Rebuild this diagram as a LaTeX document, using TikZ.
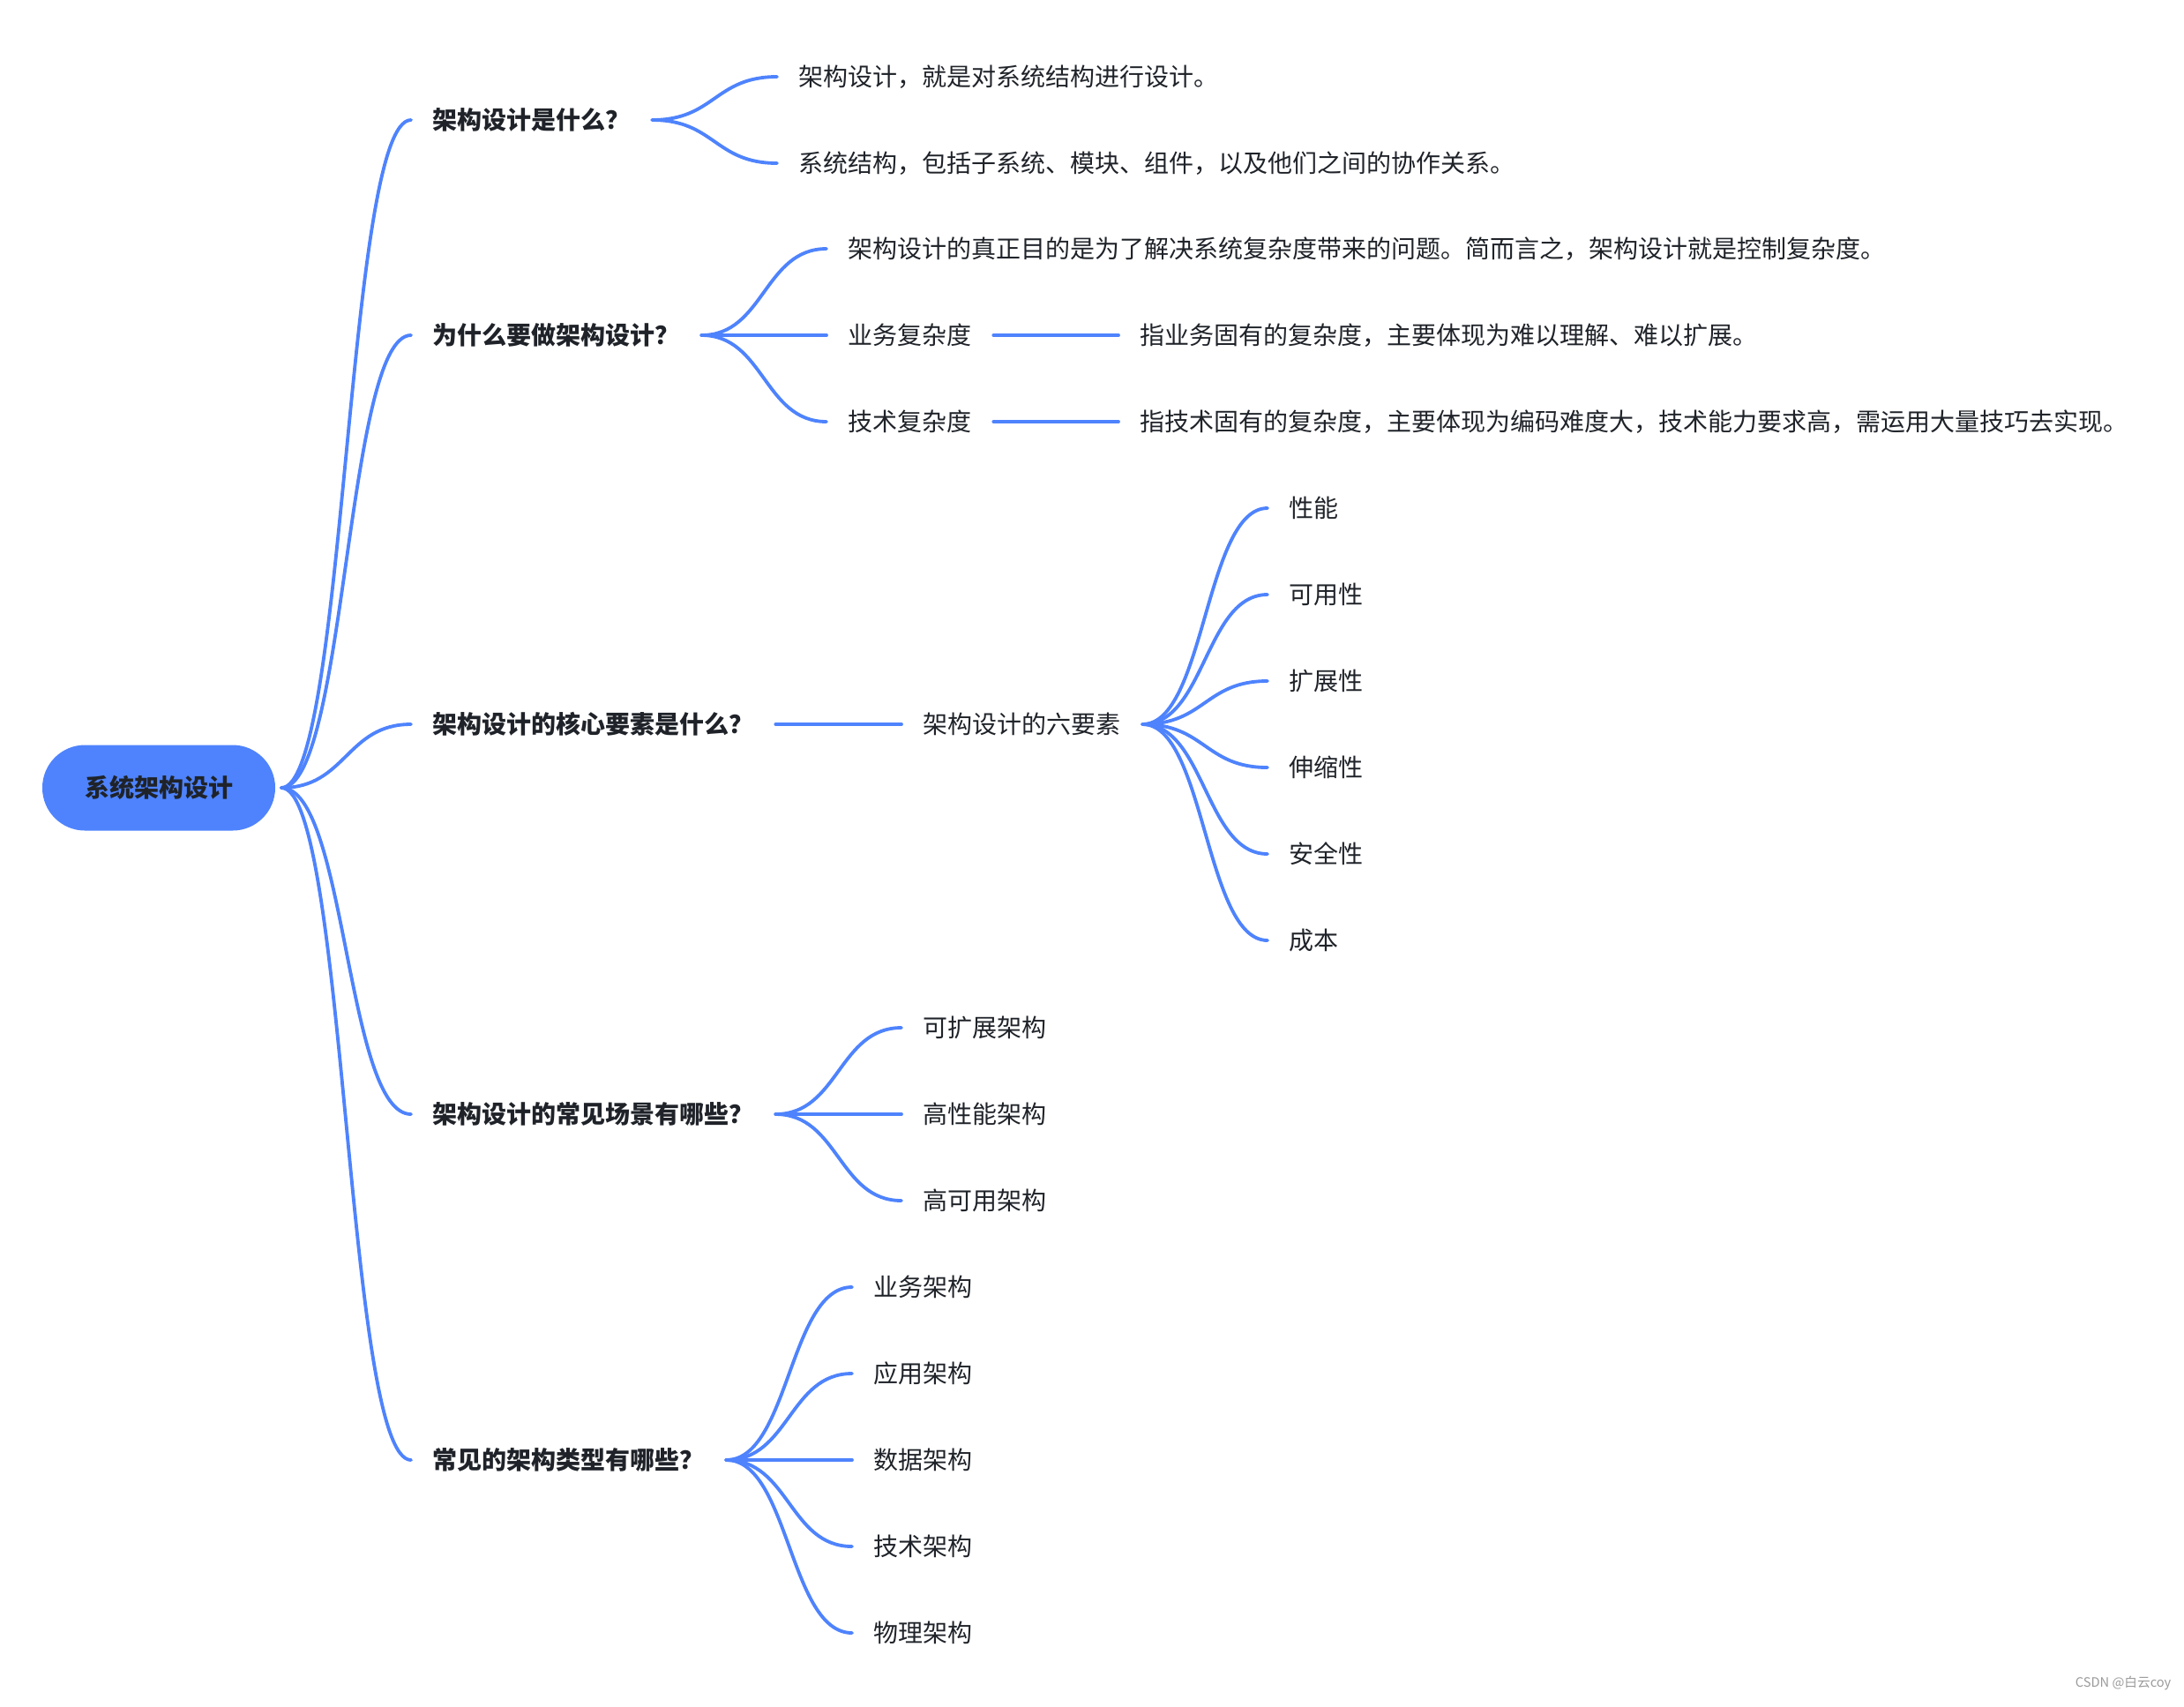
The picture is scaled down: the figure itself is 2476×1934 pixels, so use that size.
\documentclass[tikz,border=0pt]{standalone}
\usepackage{fontspec}
\setmainfont{Noto Sans CJK SC}
\usetikzlibrary{calc}
\definecolor{lnblue}{HTML}{4E83FD}
\definecolor{txt}{HTML}{1F2329}
\definecolor{wm}{HTML}{9A9A9A}
\newcommand\mmfs{\fontsize{8.4pt}{10pt}\selectfont}
\begin{document}
\begin{tikzpicture}[x=0.3pt,y=-0.3pt,
  every node/.style={inner ysep=0pt, inner xsep=7.2pt, font=\mmfs, text=txt},
  topic/.style={anchor=west, font=\mmfs\bfseries},
  leaf/.style={anchor=west},
  link/.style={draw=lnblue, line width=1.15pt, line cap=round},
  mm/.style={to path={let \p1=(\tikztostart), \p2=(\tikztotarget) in
     .. controls ({0.5*\x1+0.5*\x2},\y1) and ({0.5*\x1+0.5*\x2},\y2) .. (\tikztotarget)}},
]
\useasboundingbox (0,0) rectangle (2476,1934);

% root
\node[fill=lnblue, rounded corners=14.5pt, minimum width=79.2pt, minimum height=29.1pt,
      font=\mmfs\bfseries, outer sep=2.1pt] (root) at (180,893) {系统架构设计};

% level 1
\node[topic] (a) at (466,136)  {架构设计是什么？};
\node[topic] (b) at (466,380)  {为什么要做架构设计？};
\node[topic] (c) at (466,821)  {架构设计的核心要素是什么？};
\node[topic] (d) at (466,1263) {架构设计的常见场景有哪些？};
\node[topic] (e) at (466,1655) {常见的架构类型有哪些？};

\foreach \k in {a,b,c,d,e} \draw[link] (root.east) to[mm] (\k.west);

% branch a
\node[leaf] (a1) at (881,87)  {架构设计，就是对系统结构进行设计。};
\node[leaf] (a2) at (881,185) {系统结构，包括子系统、模块、组件，以及他们之间的协作关系。};
\foreach \k in {a1,a2} \draw[link] (a.east) to[mm] (\k.west);

% branch b
\node[leaf] (b1) at (937,282) {架构设计的真正目的是为了解决系统复杂度带来的问题。简而言之，架构设计就是控制复杂度。};
\node[leaf] (b2) at (937,380) {业务复杂度};
\node[leaf] (b3) at (937,478) {技术复杂度};
\foreach \k in {b1,b2,b3} \draw[link] (b.east) to[mm] (\k.west);
\node[leaf] (b2a) at (1268,380) {指业务固有的复杂度，主要体现为难以理解、难以扩展。};
\node[leaf] (b3a) at (1268,478) {指技术固有的复杂度，主要体现为编码难度大，技术能力要求高，需运用大量技巧去实现。};
\draw[link] (b2.east) -- (b2a.west);
\draw[link] (b3.east) -- (b3a.west);

% branch c
\node[leaf] (c1) at (1022,821) {架构设计的六要素};
\draw[link] (c.east) -- (c1.west);
\node[leaf] (c11) at (1437,576)  {性能};
\node[leaf] (c12) at (1437,674)  {可用性};
\node[leaf] (c13) at (1437,772)  {扩展性};
\node[leaf] (c14) at (1437,870)  {伸缩性};
\node[leaf] (c15) at (1437,968)  {安全性};
\node[leaf] (c16) at (1437,1066) {成本};
\foreach \k in {c11,c12,c13,c14,c15,c16} \draw[link] (c1.east) to[mm] (\k.west);

% branch d
\node[leaf] (d1) at (1022,1165) {可扩展架构};
\node[leaf] (d2) at (1022,1263) {高性能架构};
\node[leaf] (d3) at (1022,1361) {高可用架构};
\foreach \k in {d1,d2,d3} \draw[link] (d.east) to[mm] (\k.west);

% branch e
\node[leaf] (e1) at (966,1459) {业务架构};
\node[leaf] (e2) at (966,1557) {应用架构};
\node[leaf] (e3) at (966,1655) {数据架构};
\node[leaf] (e4) at (966,1753) {技术架构};
\node[leaf] (e5) at (966,1851) {物理架构};
\foreach \k in {e1,e2,e3,e4,e5} \draw[link] (e.east) to[mm] (\k.west);

% watermark
\node[anchor=east, inner sep=0pt, font=\fontsize{4.4pt}{5pt}\selectfont, text=wm] (wmk) at (2462,1908) {CSDN @白云coy};
\end{tikzpicture}
\end{document}
